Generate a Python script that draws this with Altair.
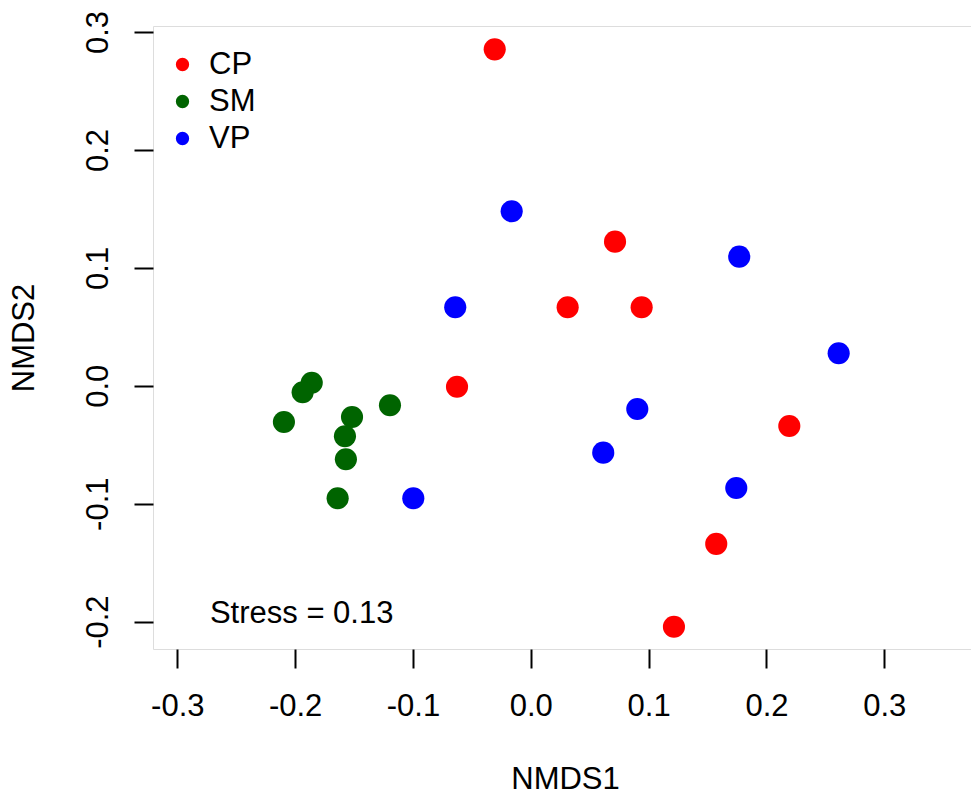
import altair as alt
import pandas as pd

groups = ["CP"] * 8 + ["SM"] * 8 + ["VP"] * 8
nmds1 = [-0.0306, 0.0715, 0.0313, 0.0941, -0.0626, 0.2194, 0.1574, 0.1215,
         -0.1859, -0.1936, -0.2095, -0.1195, -0.1517, -0.1577, -0.1569, -0.1639,
         -0.0162, -0.0641, 0.1769, 0.2613, 0.0904, 0.0615, 0.1744, -0.0997]
nmds2 = [0.2853, 0.1222, 0.0666, 0.0666, -0.0008, -0.0341, -0.1341, -0.2043,
         0.0026, -0.0055, -0.0307, -0.0165, -0.0265, -0.0428, -0.0623, -0.0954,
         0.1480, 0.0666, 0.1095, 0.0276, -0.0197, -0.0567, -0.0867, -0.0954]
group_names = ["CP", "SM", "VP"]
group_colors = ["#FF0000", "#006400", "#0000FF"]
x_ticks = [-0.3, -0.2, -0.1, 0.0, 0.1, 0.2, 0.3]
y_ticks = [-0.2, -0.1, 0.0, 0.1, 0.2, 0.3]
stress_text = ["Stress = 0.13"]
stress_x = [-0.2723]
stress_y = [-0.1935]

df = pd.DataFrame({"NMDS1": nmds1, "NMDS2": nmds2, "group": groups})
ann = pd.DataFrame({"x": stress_x, "y": stress_y, "t": stress_text})

FONT = "Liberation Sans"
FS = 31
LABEL_EXPR = "datum.value < 0 ? '-' + format(-datum.value, '.1f') : format(datum.value, '.1f')"

xscale = alt.Scale(domain=[-0.3206, 0.3736], nice=False, zero=False)
yscale = alt.Scale(domain=[-0.2232, 0.3051], nice=False, zero=False)

xaxis = alt.Axis(values=x_ticks, labelExpr=LABEL_EXPR, domain=False, grid=False,
                 tickSize=19, tickWidth=2, tickColor="black", tickOpacity=1,
                 labelFontSize=FS, labelFont=FONT, labelColor="black",
                 labelPadding=23, labelFlush=False, labelOverlap=False,
                 title="NMDS1", titleFontSize=FS, titleFont=FONT,
                 titleFontWeight="normal", titleColor="black",
                 titleBaseline="alphabetic", titleY=139, titleX=412,
                 titleAlign="center")
yaxis = alt.Axis(values=y_ticks, labelExpr=LABEL_EXPR, domain=False, grid=False,
                 tickSize=19, tickWidth=2, tickColor="black", tickOpacity=1,
                 labelFontSize=FS, labelFont=FONT, labelColor="black",
                 labelAngle=-90, labelPadding=20, labelFlush=False,
                 labelOverlap=False,
                 title="NMDS2", titleFontSize=FS, titleFont=FONT,
                 titleFontWeight="normal", titleColor="black",
                 titleBaseline="alphabetic", titleX=-120, titleAngle=270)

points = alt.Chart(df).mark_circle(size=490, opacity=1).encode(
    x=alt.X("NMDS1:Q", scale=xscale, axis=xaxis),
    y=alt.Y("NMDS2:Q", scale=yscale, axis=yaxis),
    color=alt.Color("group:N",
                    scale=alt.Scale(domain=group_names, range=group_colors),
                    legend=alt.Legend(title=None, orient="none", legendX=14,
                                      legendY=23, symbolType="circle",
                                      symbolSize=177, symbolOpacity=1,
                                      symbolStrokeWidth=0,
                                      labelFontSize=FS, labelFont=FONT,
                                      labelColor="black", labelOffset=11,
                                      rowPadding=5, padding=0)),
)

text = alt.Chart(ann).mark_text(align="left", baseline="middle",
                                fontSize=FS, font=FONT, color="black").encode(
    x=alt.X("x:Q", scale=xscale),
    y=alt.Y("y:Q", scale=yscale),
    text="t:N",
)

chart = alt.layer(points, text).properties(
    width=818, height=623,
    autosize=alt.AutoSizeParams(type="none"),
    padding={"left": 153, "top": 26, "right": 0, "bottom": 151},
).configure_view(stroke="black", strokeWidth=2, strokeOpacity=1).configure(background="white")

chart.save("out.html", embed_options={"renderer": "svg", "actions": False})
